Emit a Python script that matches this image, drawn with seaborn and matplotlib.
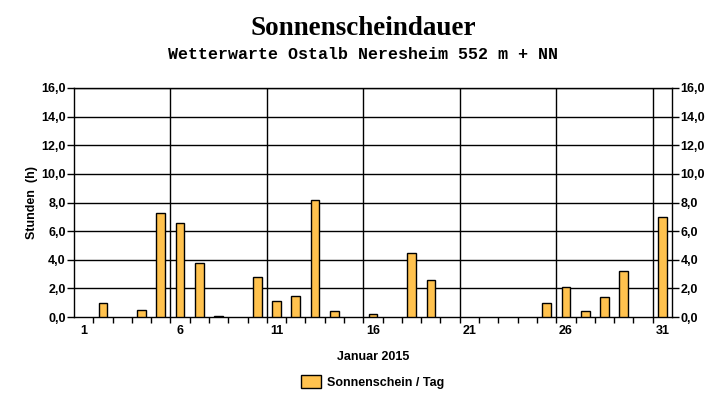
import matplotlib.pyplot as plt
import seaborn as sns
import pandas as pd

# Sonnenscheindauer Januar 2015 (Stunden pro Tag)
tage = list(range(1, 32))
sonnenstunden = [0.0, 1.0, 0.0, 0.5, 7.3, 6.6, 3.8, 0.05, 0.0, 2.8,
                 1.1, 1.5, 8.2, 0.4, 0.0, 0.2, 0.0, 4.5, 2.6, 0.0,
                 0.0, 0.0, 0.0, 0.0, 1.0, 2.1, 0.4, 1.4, 3.2, 0.0,
                 7.0]
x_labels = [1, 6, 11, 16, 21, 26, 31]
y_ticks = [0, 2, 4, 6, 8, 10, 12, 14, 16]

df = pd.DataFrame({'Tag': tage, 'Stunden': sonnenstunden})
df = df[df['Stunden'] > 0]  # Tage ohne Sonne: kein Balken

sns.set_style('white')
plt.rcParams['font.family'] = ['Liberation Sans', 'DejaVu Sans']
plt.rcParams['text.color'] = 'black'
plt.rcParams['axes.labelcolor'] = 'black'
plt.rcParams['xtick.color'] = 'black'
plt.rcParams['ytick.color'] = 'black'

fig = plt.figure(figsize=(7.27, 4.04), dpi=100)
ax = fig.add_axes([0.1018, 0.2153, 0.8225, 0.5669])

sns.barplot(data=df, x='Tag', y='Stunden', native_scale=True, width=0.45,
            color='#FFC24E', edgecolor='black', linewidth=1.0,
            saturation=1, ax=ax, zorder=3, label='Sonnenschein / Tag')

ax.set_xlim(0.5, 31.5)
ax.set_ylim(0, 16)

# Gitterlinien
for y in y_ticks[1:]:
    ax.axhline(y, color='black', linewidth=1.0, zorder=1)
for x in x_labels[:-1]:
    ax.axvline(x + 4.5, color='black', linewidth=1.0, zorder=1)

for s in ax.spines.values():
    s.set_color('black')
    s.set_linewidth(1.0)

ax.set_xticks(x_labels)
ax.set_xticklabels([str(v) for v in x_labels], fontsize=9, fontweight='bold')
ax.set_xticks([t + 0.5 for t in tage[:-1]], minor=True)
ax.tick_params(axis='x', which='major', length=0, pad=6, bottom=True)
ax.tick_params(axis='x', which='minor', length=4, width=1, direction='out',
               color='black', bottom=True)

ax.set_yticks(y_ticks)
ax.set_yticklabels([f'{v:.1f}'.replace('.', ',') for v in y_ticks],
                   fontsize=9, fontweight='bold')
ax.tick_params(axis='y', which='major', length=5, width=1, direction='out',
               color='black', left=True, right=True, labelleft=True,
               labelright=True, pad=1)

ax.set_xlabel('Januar 2015', fontsize=9, fontweight='bold', labelpad=10)
ax.set_ylabel('Stunden  (h)', fontsize=9, fontweight='bold', labelpad=2)

fig.text(0.5, 0.93, 'Sonnenscheindauer', ha='center', va='center',
         fontsize=19.5, fontweight='bold', family='Liberation Serif')
fig.text(0.5, 0.864, 'Wetterwarte Ostalb Neresheim 552 m + NN', ha='center',
         va='center', fontsize=12, fontweight='bold', family='Liberation Mono')

leg = ax.legend(loc='center', bbox_to_anchor=(0.5, -0.285), frameon=False,
                prop={'size': 9, 'weight': 'bold'}, handlelength=1.6,
                handleheight=1.2, handletextpad=0.5)

fig.savefig('out.png', dpi=100)
